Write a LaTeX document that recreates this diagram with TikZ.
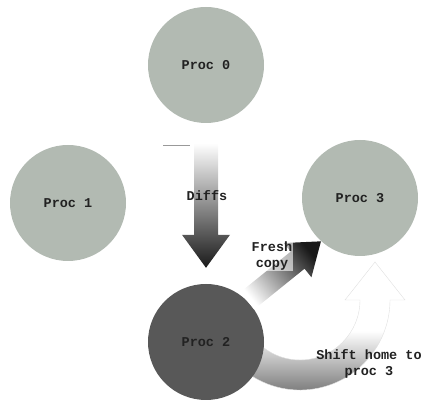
\documentclass[tikz,border=0pt]{standalone}
\usepackage{fontspec}
\setmonofont{Liberation Mono}
\definecolor{pcInk}{HTML}{222222}
\definecolor{pcPale}{HTML}{B2BAB2}
\definecolor{pcDark}{HTML}{585858}
\definecolor{pcBand}{HTML}{6A6A6A}
\usetikzlibrary{calc}

\begin{document}
\begin{tikzpicture}[x=1pt,y=1pt,
                    proc/.style={circle,fill=pcPale,minimum size=116pt,inner sep=0pt,
                                 text=pcInk,font=\ttfamily\bfseries\fontsize{13.5}{15}\selectfont},
                    tag/.style={align=center,text=pcInk,inner sep=1pt,
                                font=\ttfamily\bfseries\fontsize{13.5}{16}\selectfont},
                    diffs/.style={top color=white,bottom color=black!90},
                    fresh/.style={top color=black!90,bottom color=white,shading angle=-51},
                    curl/.style={top color=white,bottom color=pcBand,middle color=white,
                                 draw=black!12,thin}]
  \useasboundingbox (0,0) rectangle (429,404);
  \node[proc] (p0) at (206,339) {Proc 0};
  \node[proc] (p1) at (68,201)  {Proc 1};
  \node[proc] (p3) at (360,206) {Proc 3};
  \coordinate (turn) at (300,104);
  \path[curl] ($(turn)+(195:60)$) -- ($(turn)+(195:90)$) arc[start angle=195,end angle=360,radius=90]
    -- ++(15,0) -- ($(turn)+(75,38)$) -- ($(turn)+(45,0)$) -- ($(turn)+(60,0)$)
    arc[start angle=360,end angle=195,radius=60] -- cycle;
  \node[proc,fill=pcDark] (p2) at (206,62) {Proc 2};
  \path[diffs] let \p1=($(p0.south)+(0,-20)$), \p2=($(p2.north)+(0,16)$) in
    (\x1-12pt,\y1) -- (\x1-12pt,\y2+33pt) -- (\x1-24pt,\y2+33pt) -- (\x2,\y2)
    -- (\x1+24pt,\y2+33pt) -- (\x1+12pt,\y2+33pt) -- (\x1+12pt,\y1) -- cycle;
  \draw[black!40,line width=1pt] ($(p0.south)+(-43,-22)$) -- ++(27,0);
  \path[fresh] let \p1=(p2.45), \p2=(p3.228), \n1={atan2(\y2-\y1,\x2-\x1)},
    \n2={veclen(\x2-\x1,\y2-\y1)} in [shift={(\p1)},rotate=\n1]
    (0,-11) -- (\n2-30,-11) -- (\n2-30,-22) -- (\n2,0) -- (\n2-30,22) -- (\n2-30,11) -- (0,11) -- cycle;
  \node[tag] (diffsT) at (207,208) {Diffs};
  \node[tag,fill=white,fill opacity=0.6,text opacity=1] (freshT) at (272,148) {Fresh\\copy};
  \node[tag] (shiftT) at (369,40) {Shift home to\\proc 3};
\end{tikzpicture}
\end{document}
